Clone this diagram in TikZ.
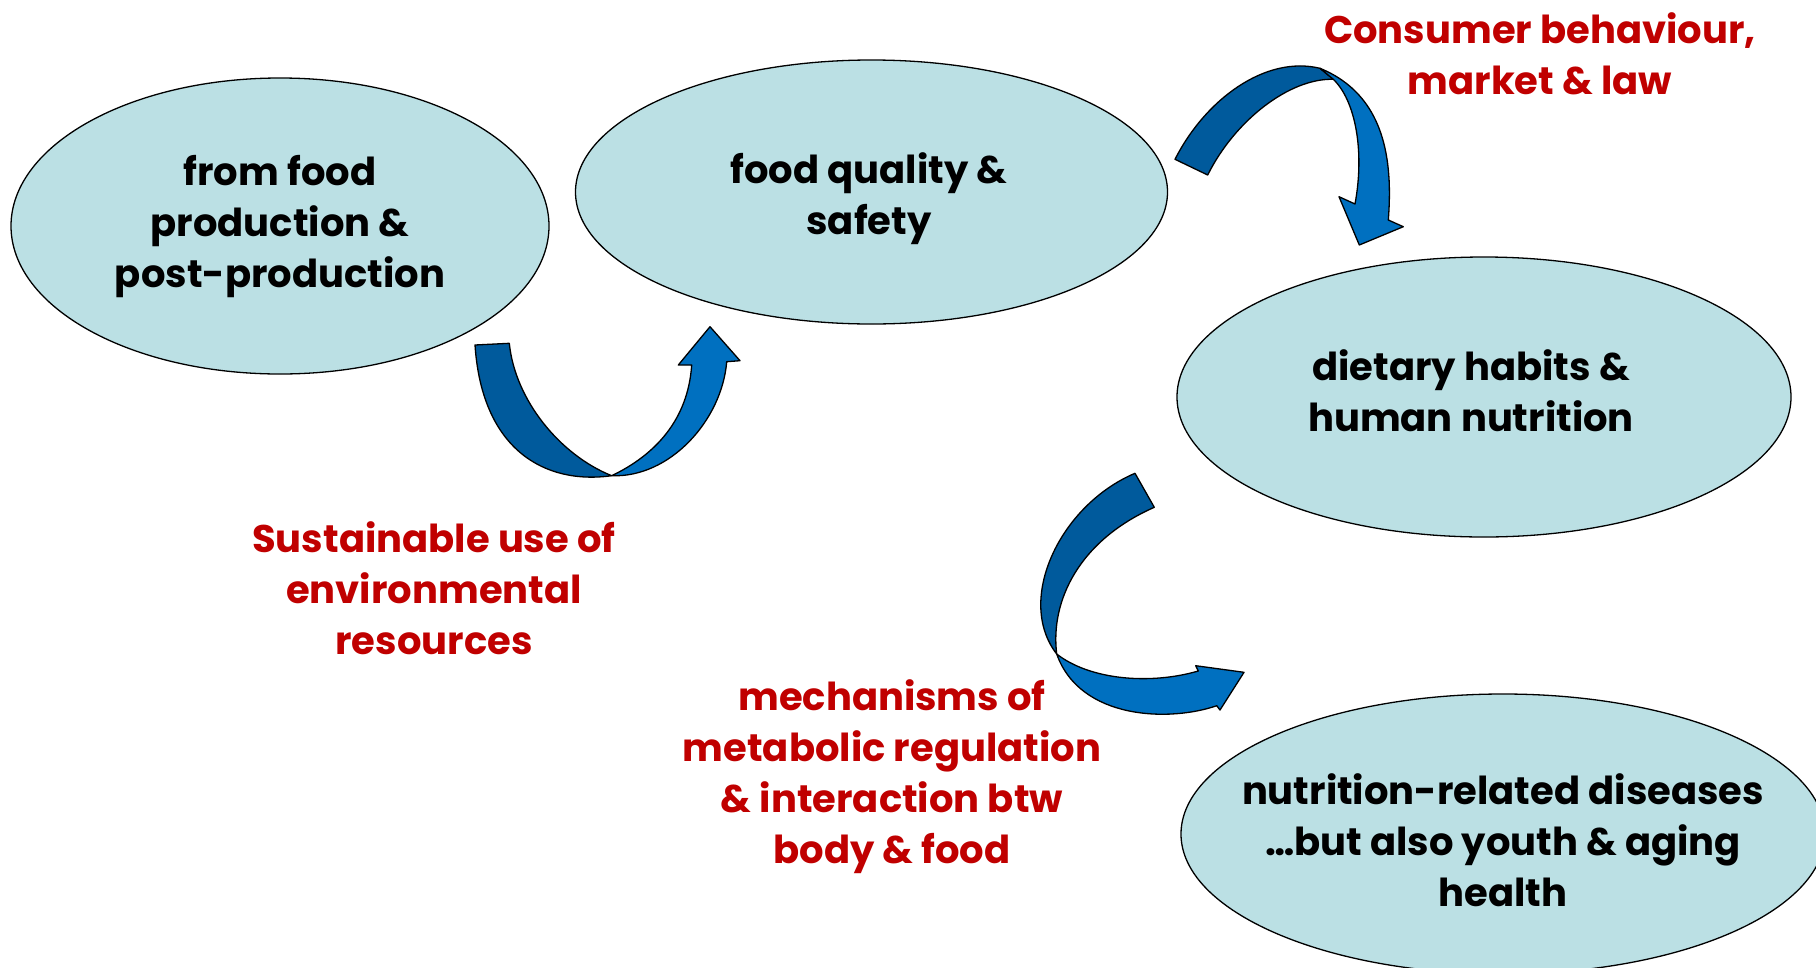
\documentclass[tikz,border=0pt]{standalone}
\usepackage{fontspec}
\setmainfont{Poppins}
\usetikzlibrary{shapes.geometric}
\definecolor{blobfill}{RGB}{187,224,228}
\definecolor{arrdark}{RGB}{0,90,156}
\definecolor{arrlight}{RGB}{0,112,192}
\definecolor{labred}{RGB}{192,0,0}
\begin{document}
\begin{tikzpicture}[x=1pt,y=-1pt,
  blob/.style={ellipse, draw=black, line width=1.3pt, fill=blobfill, inner sep=0pt},
  maintext/.style={align=center, font=\fontsize{38.5}{51}\selectfont\bfseries, text=black, inner sep=0pt},
  redtext/.style={align=center, font=\fontsize{38.5}{51}\selectfont\bfseries, text=labred, inner sep=0pt},
  darkpart/.style={fill=arrdark, draw=black, line width=1.3pt, line join=round},
  lightpart/.style={fill=arrlight, draw=black, line width=1.3pt, line join=round}]
\useasboundingbox (0,0) rectangle (1816,967);
\clip (0,0) rectangle (1816,967);
\fill[white] (0,0) rectangle (1816,967);

% ellipses
\node[blob, minimum width=538, minimum height=296] (e1) at (280,226) {};
\node[blob, minimum width=592, minimum height=264] (e2) at (871.5,192) {};
\node[blob, minimum width=614, minimum height=280] (e3) at (1484,397) {};
\node[blob, minimum width=644, minimum height=280] (e4) at (1503,834) {};

% texts in ellipses
\node[maintext] (t1) at (280,227) {from food\\production \&\\post-production};
\node[maintext] (t2) at (869,199) {food quality \&\\safety};
\node[maintext] (t3) at (1471,391) {dietary habits \&\\human nutrition};
\node[maintext] (t4) at (1503,840) {nutrition-related diseases\\\dots but also youth \& aging\\health};

% red labels
\node[redtext] (r1) at (1540,54) {Consumer behaviour,\\market \& law};
\node[redtext] (r2) at (434,588) {Sustainable use of\\environmental\\resources};
\node[redtext] (r3) at (892,777) {mechanisms of\\metabolic regulation\\\& interaction btw\\body \& food};

% arrow 1 (e1 -> e2)
\coordinate (a1t1) at (475,345);
\coordinate (a1t2) at (509.3,343.3);
\coordinate (a1x) at (611.7,475.7);
\coordinate (a1ls) at (691.7,365);
\coordinate (a1lb) at (678.3,365);
\coordinate (a1tip) at (710,326.7);
\coordinate (a1rb) at (740,360.7);
\coordinate (a1rs) at (726.7,361.7);
\path[darkpart] (a1t1) .. controls (482,450) and (545,485) .. (a1x)
  .. controls (560,455) and (515,400) .. (a1t2) -- cycle;
\path[lightpart] (a1x) .. controls (670,478) and (722,420) .. (a1rs)
  -- (a1rb) -- (a1tip) -- (a1lb) -- (a1ls)
  .. controls (688,420) and (655,455) .. (a1x) -- cycle;

% arrow 2 (e2 -> e3)
\coordinate (a2t1) at (1175,159.3);
\coordinate (a2t2) at (1207.7,175);
\coordinate (a2o) at (1320,68.3);
\coordinate (a2x) at (1333.3,79.3);
\coordinate (a2rs) at (1388.3,220);
\coordinate (a2rb) at (1403.3,226.7);
\coordinate (a2tip) at (1359.3,245);
\coordinate (a2lb) at (1339,196.7);
\coordinate (a2ls) at (1355,204);
\path[darkpart] (a2t1) .. controls (1205,100) and (1265,55) .. (a2o) -- (a2x)
  .. controls (1290,78) and (1235,120) .. (a2t2) -- cycle;
\path[lightpart] (a2o) .. controls (1385,95) and (1393,160) .. (a2rs)
  -- (a2rb) -- (a2tip) -- (a2lb) -- (a2ls)
  .. controls (1365,150) and (1355,100) .. (a2x) -- cycle;

% arrow 3 (e3 -> e4)
\coordinate (a3t1) at (1135,473.3);
\coordinate (a3t2) at (1154.3,507.3);
\coordinate (a3x) at (1056.7,654);
\coordinate (a3ls) at (1216.7,705.7);
\coordinate (a3lb) at (1220,710);
\coordinate (a3tip) at (1244,672.3);
\coordinate (a3ub) at (1195.7,665.7);
\coordinate (a3us) at (1198.3,671);
\path[darkpart] (a3t1) .. controls (1060,505) and (1015,600) .. (a3x)
  .. controls (1050,600) and (1080,540) .. (a3t2) -- cycle;
\path[lightpart] (a3x) .. controls (1080,720) and (1170,722) .. (a3ls)
  -- (a3lb) -- (a3tip) -- (a3ub) -- (a3us)
  .. controls (1150,685) and (1090,680) .. (a3x) -- cycle;
\end{tikzpicture}
\end{document}
